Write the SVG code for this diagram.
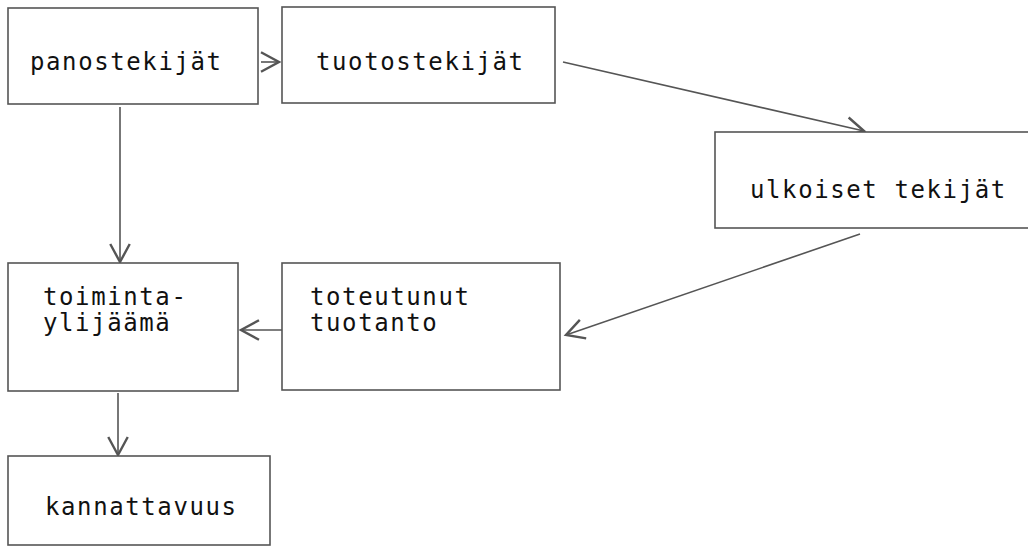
<svg xmlns="http://www.w3.org/2000/svg" width="1028" height="550" viewBox="0 0 1028 550">
<style>
.box{fill:#fff;stroke:#555;stroke-width:1.6}
.lbl{font-family:"DejaVu Sans Mono","Liberation Mono",monospace;font-size:24px;letter-spacing:1.6px;fill:#111}
.con{stroke:#555;stroke-width:1.6;fill:none}
</style>
<defs>
<marker id="ah" markerUnits="userSpaceOnUse" markerWidth="24" markerHeight="24" refX="14" refY="8" orient="auto" viewBox="0 0 16 16">
<path d="M2,1.5 L14,8 L2,14.5" fill="none" stroke="#555" stroke-width="1.6"/>
</marker>
</defs>
<rect width="1028" height="550" fill="#fff"/>
<g id="connectors">
<line class="con" x1="261" y1="62" x2="279" y2="62" marker-end="url(#ah)"/>
<line class="con" x1="563" y1="62" x2="864" y2="131" marker-end="url(#ah)"/>
<line class="con" x1="860" y1="234" x2="566" y2="335" marker-end="url(#ah)"/>
<line class="con" x1="282" y1="330" x2="241" y2="330" marker-end="url(#ah)"/>
<line class="con" x1="120" y1="107" x2="120" y2="262" marker-end="url(#ah)"/>
<line class="con" x1="118" y1="393" x2="118" y2="455" marker-end="url(#ah)"/>
</g>
<g id="panostekijat">
<rect class="box" x="8" y="8" width="250" height="96"/>
<text class="lbl" x="30" y="70">panostekijät</text>
</g>
<g id="tuotostekijat">
<rect class="box" x="282" y="7" width="273" height="96"/>
<text class="lbl" x="316" y="70">tuotostekijät</text>
</g>
<g id="ulkoiset">
<rect class="box" x="715" y="132" width="320" height="96"/>
<text class="lbl" x="750" y="198">ulkoiset tekijät</text>
</g>
<g id="toteutunut">
<rect class="box" x="282" y="263" width="278" height="127"/>
<text class="lbl" x="310" y="305">toteutunut</text>
<text class="lbl" x="310" y="331">tuotanto</text>
</g>
<g id="toiminta">
<rect class="box" x="8" y="263" width="230" height="128"/>
<text class="lbl" x="43" y="305">toiminta-</text>
<text class="lbl" x="43" y="331">ylijäämä</text>
</g>
<g id="kannattavuus">
<rect class="box" x="8" y="456" width="262" height="89"/>
<text class="lbl" x="45" y="515">kannattavuus</text>
</g>
</svg>
